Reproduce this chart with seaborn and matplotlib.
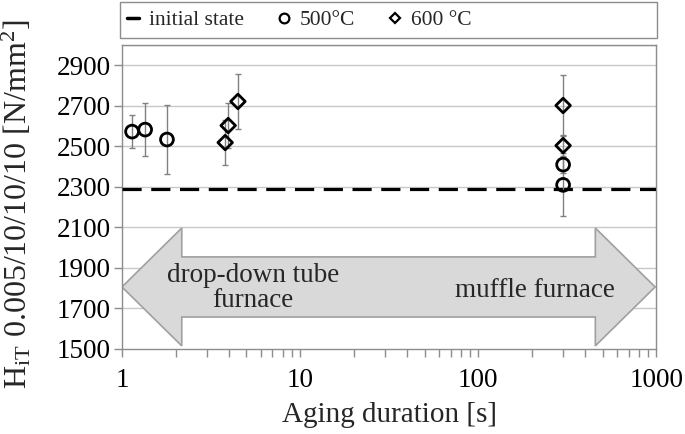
import matplotlib
matplotlib.use("Agg")
import matplotlib.pyplot as plt
import seaborn as sns
import numpy as np
import pandas as pd
from matplotlib.patches import Polygon, Rectangle
from matplotlib.lines import Line2D

# ---- data ----
t500 = [1.14, 1.35, 1.79, 300, 300]
h500 = [2573, 2583, 2534, 2410, 2310]
e500 = [82, 132, 168, 40, 155]

t600 = [3.8, 3.95, 4.48, 300, 300]
h600 = [2519, 2603, 2722, 2702, 2504]
e600 = [110, 110, 137, 150, 50]

t_init = [1, 1000]
h_init = [2290, 2290]

yticks = [1500, 1700, 1900, 2100, 2300, 2500, 2700, 2900]
xticks = [1, 10, 100, 1000]
xticklabels = ["1", "10", "100", "1000"]

sns.set_theme(style="white")
plt.rcParams['font.family'] = ['Liberation Serif', 'DejaVu Serif']
plt.rcParams['mathtext.fontset'] = 'custom'
plt.rcParams['mathtext.rm'] = 'Liberation Serif'
plt.rcParams['mathtext.it'] = 'Liberation Serif:italic'

fig = plt.figure(figsize=(6.85, 4.34), dpi=100)
ax = fig.add_axes([0.178, 0.196, 0.780, 0.700])

grid_c = "#c8c8c8"
spine_c = "#8c8c8c"

ax.set_xscale("log")
ax.set_xlim(1, 1000)
ax.set_ylim(1500, 3000)
ax.set_yticks(yticks)
ax.set_xticks(xticks)
ax.set_xticklabels(xticklabels)
for y in yticks[1:] + [3000]:
    ax.axhline(y, color=grid_c, lw=1.0, zorder=0)

# arrow shape (axes fraction)
arrow_pts = [(0.0, 0.204), (0.112, 0.398), (0.112, 0.303), (0.886, 0.303),
             (0.886, 0.398), (0.998, 0.204), (0.886, 0.010), (0.886, 0.105),
             (0.112, 0.105), (0.112, 0.010)]
ax.add_patch(Polygon(arrow_pts, closed=True, transform=ax.transAxes,
                     facecolor="#d9d9d9", edgecolor="#a0a0a0", lw=1.2, zorder=1))
ax.text(0.245, 0.200, "drop-down tube\nfurnace", transform=ax.transAxes,
        ha="center", va="center", fontsize=19.5, linespacing=1.0, zorder=2)
ax.text(0.773, 0.192, "muffle furnace", transform=ax.transAxes,
        ha="center", va="center", fontsize=19.5, zorder=2)

# initial state line
df_init = pd.DataFrame({"t": t_init, "h": h_init})
sns.lineplot(data=df_init, x="t", y="h", ax=ax, color="black", lw=2.3,
             dashes=False, zorder=3)
ax.lines[-1].set_dashes((6, 3))

# error bars
ax.errorbar(t500, h500, yerr=e500, fmt="none", ecolor="#808080",
            elinewidth=1.0, capsize=2.5, capthick=1.0, zorder=3)
ax.errorbar(t600, h600, yerr=e600, fmt="none", ecolor="#808080",
            elinewidth=1.0, capsize=2.5, capthick=1.0, zorder=3)

df500 = pd.DataFrame({"t": t500, "h": h500})
df600 = pd.DataFrame({"t": t600, "h": h600})
sns.scatterplot(data=df500, x="t", y="h", ax=ax, marker="o", s=85,
                fc="none", ec="black", linewidth=2.0, zorder=4)
sns.scatterplot(data=df600, x="t", y="h", ax=ax, marker="D", s=55,
                fc="none", ec="black", linewidth=2.0, zorder=4)

ax.set_xlim(1, 1000)
ax.set_ylim(1500, 3000)
ax.set_xlabel("Aging duration [s]", fontsize=21, labelpad=6)
ax.set_ylabel(r"H$_{\mathrm{iT}}$ 0.005/10/10/10 [N/mm$^2$]", fontsize=23)
ax.yaxis.set_label_coords(-0.165, 0.478)

for s in ax.spines.values():
    s.set_color(spine_c)
    s.set_linewidth(1.0)
ax.tick_params(axis="both", which="both", direction="out", color=spine_c,
               labelsize=19.5, labelcolor="black")
ax.tick_params(axis="y", length=6, width=1, left=True, pad=2)
ax.tick_params(axis="x", which="major", length=6, width=1, bottom=True, pad=8)
ax.tick_params(axis="x", which="minor", length=6, width=1, bottom=True)
ax.xaxis.set_minor_formatter(matplotlib.ticker.NullFormatter())

# legend frame
fig.patches.append(Rectangle((120 / 685, 1 - 38 / 434), 537 / 685, 36 / 434,
                             transform=fig.transFigure, fill=False,
                             edgecolor=spine_c, lw=1.0))
handles = [Line2D([], [], color="black", lw=2.5),
           Line2D([], [], marker="o", color="black", ls="none", mfc="none", ms=7, mew=1.6),
           Line2D([], [], marker="D", color="black", ls="none", mfc="none", ms=5.5, mew=1.6)]
labels = ["initial state", "500°C", "600 °C"]
leg = fig.legend(handles, labels, loc="center left",
                 bbox_to_anchor=(127 / 685, 1 - 20 / 434),
                 ncol=3, fontsize=15.5, frameon=False,
                 handlelength=0.55, handletextpad=0.45, borderaxespad=0,
                 borderpad=0.0, columnspacing=1.6)

fig.savefig("out.png", dpi=100)
